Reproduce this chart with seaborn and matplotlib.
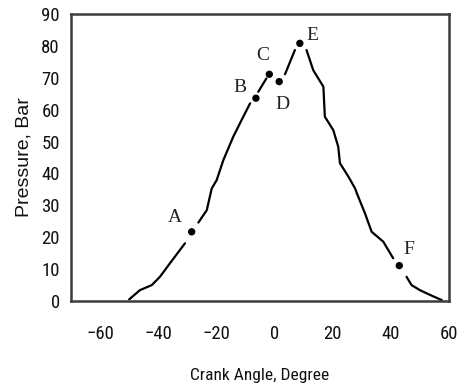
import numpy as np
import pandas as pd
import matplotlib
matplotlib.use("Agg")
import matplotlib.pyplot as plt
import seaborn as sns

# In-cylinder pressure trace, split into segments around the marked points
seg1_angle = [-50.0, -46.3, -42.2, -39.4, -36.0, -30.8]
seg1_press = [0.5, 3.4, 5.0, 7.6, 11.8, 18.1]
seg2_angle = [-26.2, -23.3, -21.6, -19.9, -17.6, -14.2, -11.3, -8.4]
seg2_press = [24.6, 28.5, 35.3, 37.9, 44.2, 51.5, 56.8, 62.0]
seg3_angle = [-5.6, -2.8]
seg3_press = [65.6, 69.8]
seg4_angle = [3.6, 7.0]
seg4_press = [71.1, 78.7]
seg5_angle = [11.0, 13.3, 16.8, 17.3, 20.2, 21.9, 22.5, 25.4, 27.7, 28.3,
              31.1, 33.4, 37.4, 40.8]
seg5_press = [78.7, 72.4, 67.2, 57.8, 53.6, 48.4, 43.2, 39.0, 35.3, 33.8,
              27.5, 21.7, 18.6, 13.4]
seg6_angle = [45.4, 47.1, 50.0, 53.5, 57.5]
seg6_press = [7.6, 5.0, 3.4, 1.9, 0.3]

# Marked points on the trace
point_names = ["A", "B", "C", "D", "E", "F"]
point_angle = [-28.5, -6.4, -1.8, 1.6, 8.7, 42.9]
point_press = [21.7, 63.6, 71.1, 68.8, 80.8, 11.1]

x_ticks = [-60, -40, -20, 0, 20, 40, 60]
y_ticks = [0, 10, 20, 30, 40, 50, 60, 70, 80, 90]

segments = [(seg1_angle, seg1_press), (seg2_angle, seg2_press),
            (seg3_angle, seg3_press), (seg4_angle, seg4_press),
            (seg5_angle, seg5_press), (seg6_angle, seg6_press)]
trace = pd.concat(
    [pd.DataFrame({"angle": a, "pressure": p, "segment": i})
     for i, (a, p) in enumerate(segments)],
    ignore_index=True)
points = pd.DataFrame({"name": point_names, "angle": point_angle,
                       "pressure": point_press})

sns.set_theme(style="white")
narrow = ["Liberation Sans Narrow", "DejaVu Sans Condensed",
          "Roboto Condensed", "DejaVu Sans"]
plt.rcParams["font.family"] = narrow
plt.rcParams["font.stretch"] = "condensed"

fig = plt.figure(figsize=(4.61, 3.87), dpi=100)
ax = fig.add_axes([71 / 461, 86 / 387, 378 / 461, 287 / 387])

sns.lineplot(data=trace, x="angle", y="pressure", units="segment",
             estimator=None, sort=False, color="black", linewidth=1.6, ax=ax)
sns.scatterplot(data=points, x="angle", y="pressure", color="black", s=28,
                edgecolor="none", ax=ax, zorder=3)

# label offsets in pixels from each marker
label_offsets = {"A": (-17, 14), "B": (-16, 11), "C": (-7, 19),
                 "D": (3, -23), "E": (13, 8), "F": (10, 16)}
for name, a, p in zip(point_names, point_angle, point_press):
    dx, dy = label_offsets[name]
    ax.annotate(name, (a, p), xytext=(dx, dy), textcoords="offset pixels",
                ha="center", va="center", fontsize=14,
                family=["DejaVu Serif Condensed", "Liberation Serif"],
                color="#222222")

ax.set_xlim(-70, 60)
ax.set_ylim(0, 90)
ax.set_xticks(x_ticks)
ax.set_xticks(np.arange(-50, 60, 20), minor=True)
ax.set_yticks(y_ticks)
ax.tick_params(axis="both", which="both", direction="in", length=5,
               width=1.6, color="#333333", labelsize=13.5, labelcolor="#111111")
ax.tick_params(axis="x", which="both", pad=17)
ax.tick_params(axis="y", which="both", pad=8)

for spine in ax.spines.values():
    spine.set_linewidth(1.8)
    spine.set_color("#3c3c3c")

ax.set_xlabel("Crank Angle, Degree", fontsize=12.5, labelpad=18,
              color="#111111")
ax.set_ylabel("Pressure, Bar", fontsize=14, labelpad=6, color="#111111",
              family=["Liberation Sans", "DejaVu Sans"], fontstretch="normal")

fig.savefig("out.png", dpi=100, facecolor="white")
